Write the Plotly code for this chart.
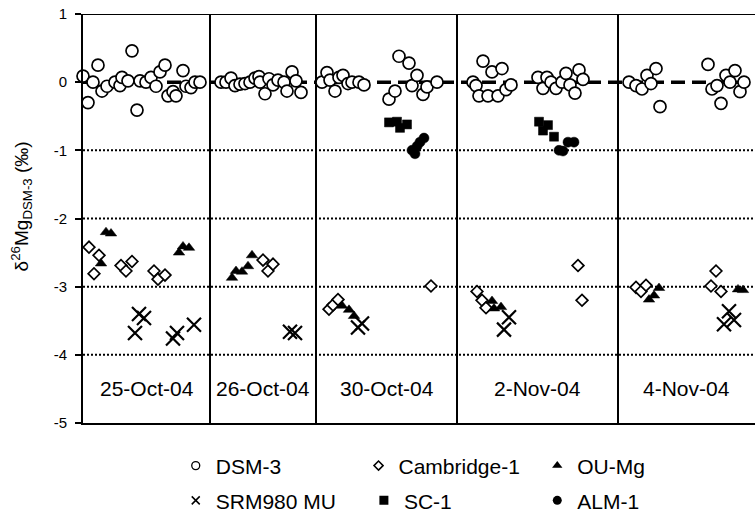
import plotly.graph_objects as go

# ---------------- data ----------------
# x: position in the analysis sequence (arbitrary units), y: delta26Mg (permil)
dsm3_x = [0, 5, 10, 15, 19, 24, 32, 37, 39, 45, 49, 54, 57, 63, 68, 73, 77, 82, 85, 90, 93, 100, 103, 108, 112, 117,
          138, 143, 148, 152, 157, 162, 167, 172, 176, 177, 182, 186, 190, 195, 201, 204, 209, 213, 218,
          239, 244, 247, 252, 256, 260, 265, 269, 276, 281, 306, 312, 316, 326, 329, 334, 340, 344, 354,
          390, 393, 396, 400, 405, 409, 415, 419, 423, 428, 455, 460, 464, 468, 473, 479, 483, 487, 492, 496, 500,
          546, 553, 559, 564, 568, 573, 577, 625, 629, 634, 638, 643, 647, 652, 657, 661]
dsm3_y = [0.09, -0.30, 0.0, 0.25, -0.13, -0.06, 0.0, -0.05, 0.07, 0.02, 0.46, -0.41, 0.02, 0.0, 0.07, -0.06, 0.15, 0.25, -0.20, -0.14, -0.20, 0.17, -0.06, -0.08, 0.0, 0.0,
          0.0, 0.0, 0.06, -0.05, -0.03, -0.02, 0.0, 0.06, 0.08, 0.0, -0.17, 0.05, -0.04, 0.03, 0.0, -0.13, 0.15, 0.02, -0.15,
          0.0, 0.14, 0.03, -0.13, 0.07, 0.10, -0.02, 0.0, 0.0, -0.04, -0.25, -0.13, 0.38, 0.28, -0.05, 0.10, -0.18, -0.07, 0.0,
          0.0, -0.05, -0.20, 0.31, -0.20, 0.15, -0.20, 0.20, -0.11, -0.04, 0.07, -0.09, 0.07, 0.0, -0.09, 0.0, 0.13, -0.04, -0.16, 0.18, 0.04,
          0.0, -0.05, -0.10, 0.10, -0.02, 0.20, -0.36, 0.26, -0.10, -0.05, -0.31, 0.10, 0.0, 0.17, -0.14, 0.0]

cam_x = [6, 11, 16, 38, 43, 49, 71, 75, 82,
         180, 185, 190,
         246, 250, 255, 348,
         394, 399, 403, 495, 499,
         553, 558, 563, 628, 633, 638]
cam_y = [-2.42, -2.81, -2.54, -2.69, -2.77, -2.63, -2.77, -2.89, -2.83,
         -2.61, -2.77, -2.67,
         -3.33, -3.27, -3.19, -2.99,
         -3.07, -3.20, -3.31, -2.69, -3.20,
         -3.01, -3.07, -2.98, -2.99, -2.77, -3.07]

ou_x = [18, 23, 28, 96, 100, 106,
        149, 153, 159, 165, 169,
        259, 266, 271,
        409, 411, 418,
        566, 571, 576, 655, 660]
ou_y = [-2.66, -2.20, -2.22, -2.50, -2.41, -2.43,
        -2.87, -2.77, -2.78, -2.70, -2.54,
        -3.28, -3.34, -3.43,
        -3.21, -3.32, -3.30,
        -3.19, -3.13, -3.02, -3.04, -3.05]

srm_x = [52, 56, 61, 90, 94, 111,
         207, 212,
         275, 279,
         421, 426,
         641, 646, 651]
srm_y = [-3.68, -3.40, -3.46, -3.76, -3.68, -3.56,
         -3.66, -3.68,
         -3.60, -3.54,
         -3.63, -3.45,
         -3.55, -3.36, -3.49]

sc1_x = [306, 314, 317, 324, 456, 460, 465, 471]
sc1_y = [-0.59, -0.58, -0.67, -0.62, -0.58, -0.71, -0.63, -0.80]

alm_x = [329, 332, 334, 337, 341, 476, 480, 485, 491]
alm_y = [-1.00, -1.05, -0.94, -0.88, -0.82, -1.00, -1.01, -0.88, -0.88]

panel_edges = [0, 127, 233, 374, 535, 672]
panel_labels = ["25-Oct-04", "26-Oct-04", "30-Oct-04", "2-Nov-04", "4-Nov-04"]

y_ticks = [1, 0, -1, -2, -3, -4, -5]
y_tick_labels = ["1", "0", "-1", "-2", "-3", "-4", "-5"]
dotted_levels = [-1, -2, -3, -4]
y_title = "δ<sup>26</sup>Mg<sub>DSM-3</sub> (‰)"

FONT = "Liberation Sans, Arial, Helvetica, sans-serif"

# ---------------- figure ----------------
fig = go.Figure()

series = [
    ("DSM-3", dsm3_x, dsm3_y, dict(symbol="circle", size=12, color="white", line=dict(color="black", width=1.7)),
     dict(symbol="circle", size=8, color="white", line=dict(color="black", width=1.3))),
    ("Cambridge-1", cam_x, cam_y, dict(symbol="diamond", size=9, color="white", line=dict(color="black", width=1.7)),
     dict(symbol="diamond", size=7, color="white", line=dict(color="black", width=1.5))),
    ("OU-Mg", ou_x, ou_y, dict(symbol="triangle-up", size=10, color="black", line=dict(color="black", width=0.5)),
     dict(symbol="triangle-up", size=9, color="black")),
    ("SRM980 MU", srm_x, srm_y, dict(symbol="x-thin", size=14, color="black", line=dict(color="black", width=2.2)),
     dict(symbol="x-thin", size=8, color="black", line=dict(color="black", width=1.5))),
    ("SC-1", sc1_x, sc1_y, dict(symbol="square", size=9, color="black", line=dict(color="black", width=0.5)),
     dict(symbol="square", size=9, color="black")),
    ("ALM-1", alm_x, alm_y, dict(symbol="circle", size=10, color="black", line=dict(color="black", width=0.5)),
     dict(symbol="circle", size=9, color="black")),
]

for name, xs, ys, mk, lmk in series:
    fig.add_trace(go.Scatter(x=xs, y=ys, mode="markers", marker=mk, name=name,
                             showlegend=False, cliponaxis=False, hoverinfo="skip"))

# legend entries (one legend per entry so columns line up as in the original)
legend_pos = [(0.138, -0.105), (0.41, -0.105), (0.676, -0.105),
              (0.138, -0.19), (0.418, -0.19), (0.676, -0.19)]
layout_legends = {}
for i, ((name, xs, ys, mk, lmk), (lx, ly)) in enumerate(zip(series, legend_pos)):
    key = "legend" if i == 0 else f"legend{i + 1}"
    fig.add_trace(go.Scatter(x=[None], y=[None], mode="markers", marker=lmk, name=name,
                             showlegend=True, legend=key))
    layout_legends[key] = dict(x=lx, y=ly, xanchor="left", yanchor="middle",
                               bgcolor="rgba(0,0,0,0)", borderwidth=0,
                               font=dict(family=FONT, size=21, color="black"),
                               itemsizing="trace")

shapes = []
# dotted reference levels
for lv in dotted_levels:
    shapes.append(dict(type="line", xref="x domain", yref="y", x0=0, x1=1, y0=lv, y1=lv,
                       line=dict(color="black", width=2, dash="2px,2px"), layer="below"))
# dashed zero line
shapes.append(dict(type="line", xref="x domain", yref="y", x0=0, x1=1, y0=0, y1=0,
                   line=dict(color="black", width=3.5, dash="14px,7px"), layer="below"))
# top border
shapes.append(dict(type="line", xref="x domain", yref="y", x0=0, x1=1, y0=y_ticks[0], y1=y_ticks[0],
                   line=dict(color="black", width=2), layer="above"))
# panel separators
for e in panel_edges[1:-1]:
    shapes.append(dict(type="line", xref="x", yref="y", x0=e, x1=e, y0=y_ticks[-1], y1=y_ticks[0],
                       line=dict(color="black", width=2), layer="below"))

annotations = []
for a, b, lab in zip(panel_edges[:-1], panel_edges[1:], panel_labels):
    annotations.append(dict(x=(a + b) / 2, y=-4.5, xref="x", yref="y", text=lab, showarrow=False,
                            font=dict(family=FONT, size=21, color="black"),
                            xanchor="center", yanchor="middle"))
# y-axis title (placed as rotated text left of the tick labels)
annotations.append(dict(x=-0.092, y=0.53, xref="paper", yref="paper", text=y_title, showarrow=False,
                        textangle=-90, font=dict(family=FONT, size=19, color="black"),
                        xanchor="center", yanchor="middle"))

fig.update_layout(
    width=755, height=512,
    margin=dict(l=83, r=0, t=14, b=89, autoexpand=False),
    paper_bgcolor="white", plot_bgcolor="white",
    font=dict(family=FONT, color="black"),
    shapes=shapes, annotations=annotations,
    **layout_legends,
)

fig.update_xaxes(range=[panel_edges[0], panel_edges[-1]], showgrid=False, zeroline=False,
                 showticklabels=False, ticks="", showline=True, linecolor="black", linewidth=2,
                 mirror=False, fixedrange=True)
fig.update_yaxes(range=[y_ticks[-1], y_ticks[0]], tickvals=y_ticks, ticktext=y_tick_labels,
                 showgrid=False, zeroline=False, ticks="outside", ticklen=6, tickwidth=1.5,
                 tickcolor="black", showline=True, linecolor="black", linewidth=2,
                 tickfont=dict(family=FONT, size=15, color="black"), ticklabelstandoff=5,
                 fixedrange=True)

fig.write_html("out.html")
